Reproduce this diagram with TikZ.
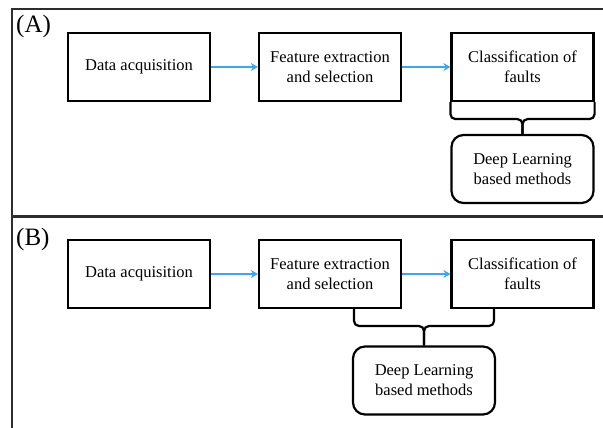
\documentclass[tikz,border=0pt]{standalone}
\usepackage{fontspec}
\setmainfont{Liberation Serif}
\usetikzlibrary{arrows.meta}
\definecolor{arrblue}{RGB}{58,170,230}
\definecolor{framec}{RGB}{45,45,45}
\tikzset{
  stepbox/.style={draw=black, line width=2.2pt, minimum width=142pt, minimum height=68pt,
    inner sep=0pt, align=center, font=\fontsize{16.5}{20}\selectfont},
  dlbox/.style={stepbox, rounded corners=12pt},
  flow/.style={draw=arrblue, line width=1.8pt, -{Stealth[length=7pt,width=8pt]}},
  bracel/.style={draw=black, line width=2.2pt, rounded corners=5pt},
  framel/.style={draw=framec, line width=2.2pt},
  panellabel/.style={anchor=base west, inner sep=0pt, font=\fontsize{25}{28}\selectfont}
}
\begin{document}
\begin{tikzpicture}[x=1pt,y=-1pt]
\useasboundingbox (0,0) rectangle (603,428);
% frame
\draw[framel] (604,9) -- (12,9) -- (12,429);
\draw[framel] (12,216.5) -- (604,216.5);
% panel A
\node[panellabel] (labA) at (16,33) {(A)};
\node[stepbox] (daqA) at (139,67) {Data acquisition};
\node[stepbox] (feaA) at (330,67) {Feature extraction\\and selection};
\node[stepbox] (clsA) at (522.5,67) {Classification of\\faults};
\node[dlbox] (dlA) at (522.5,169) {Deep Learning\\based methods};
\draw[flow] (daqA) -- (feaA);
\draw[flow] (feaA) -- (clsA);
\coordinate (bAl) at (clsA.south west);
\coordinate (bAr) at (clsA.south east);
\draw[bracel] (bAl) -- ++(0,17) -| (dlA.north);
\draw[bracel] (bAr) -- ++(0,17) -| (dlA.north);
% panel B
\node[panellabel] (labB) at (16,245) {(B)};
\node[stepbox] (daqB) at (139,274) {Data acquisition};
\node[stepbox] (feaB) at (330,274) {Feature extraction\\and selection};
\node[stepbox] (clsB) at (522.5,274) {Classification of\\faults};
\node[dlbox] (dlB) at (424,380.5) {Deep Learning\\based methods};
\draw[flow] (daqB) -- (feaB);
\draw[flow] (feaB) -- (clsB);
\coordinate (bBl) at (354,308);
\coordinate (bBr) at (494,308);
\draw[bracel] (bBl) -- ++(0,18) -| (dlB.north);
\draw[bracel] (bBr) -- ++(0,18) -| (dlB.north);
\end{tikzpicture}
\end{document}
